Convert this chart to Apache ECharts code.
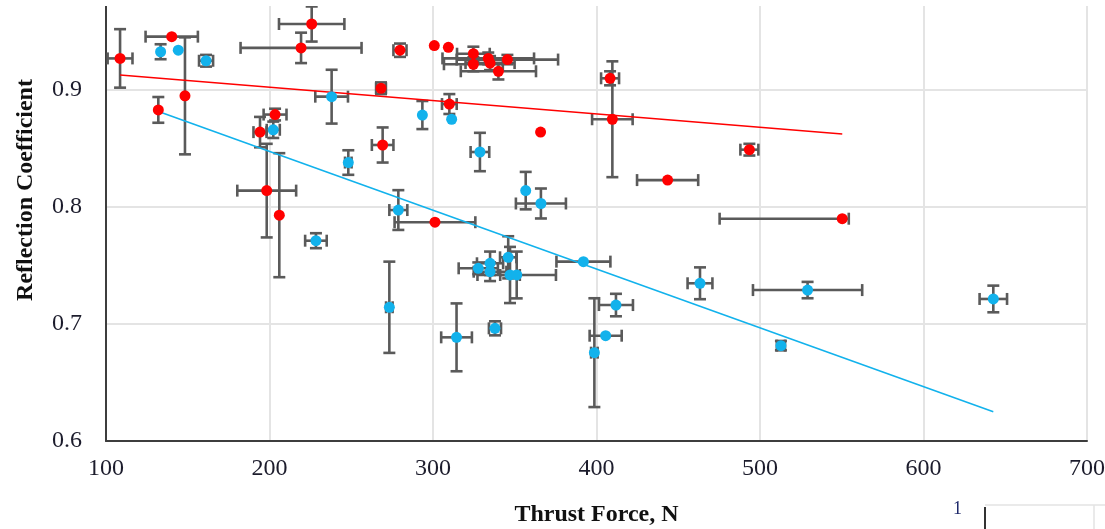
<!DOCTYPE html>
<html>
<head>
<meta charset="utf-8">
<script src="https://cdn.jsdelivr.net/npm/echarts@6/dist/echarts.min.js"></script>
<style>
  html, body { margin: 0; padding: 0; background: #ffffff; }
  #chart { width: 1105px; height: 529px; }
</style>
</head>
<body>
<div id="chart"></div>
<script>
// Red series: thrust force (N) vs reflection coefficient, with ± error (number or [minus, plus])
const redX = [108.6, 140.2, 148.3, 132.0, 225.8, 219.3, 203.4, 194.2, 198.3, 206.0,
              269.2, 268.2, 279.8, 300.8, 309.4, 324.7, 324.7, 333.8, 334.9, 340.0,
              345.5, 310.0, 365.8, 408.3, 409.7, 443.5, 493.5, 301.2, 550.3];
const redY = [0.927, 0.9456, 0.895, 0.883, 0.9564, 0.936, 0.879, 0.864, 0.814, 0.793,
              0.853, 0.9015, 0.934, 0.938, 0.9365, 0.931, 0.922, 0.927, 0.923, 0.916,
              0.926, 0.888, 0.864, 0.910, 0.875, 0.823, 0.849, 0.787, 0.790];
const redXErr = [7.6, 16, 0, 0, 20, 37, 7, 4, 18, 0,
                 6.6, 3, 4, 0, 0, 10, 18, 28, 15, 23,
                 31, 4.5, 0, 5.5, 12.4, 18.7, 5.5, 24.7, [75, 4]];
const redYErr = [0.025, 0, 0.05, 0.011, 0.015, 0.013, 0.005, 0.013, 0.04, 0.053,
                 0.015, 0.005, 0.0057, 0, 0, 0.006, 0.006, 0.005, 0.006, 0.007,
                 0.004, 0.0085, 0, 0.006, 0.0495, 0, 0.005, 0, 0];

// Blue series
const cyanX = [133.4, 144.2, 161.2, 238.0, 248.2, 202.3, 228.4, 278.8, 273.3, 293.5,
               311.4, 328.7, 356.7, 366.0, 392.0, 463.3, 411.9, 405.6, 398.7, 314.4,
               337.9, 327.7, 334.9, 334.9, 346.0, 347.1, 351.2, 529.1, 512.8, 642.7];
const cyanY = [0.9327, 0.934, 0.925, 0.8943, 0.838, 0.866, 0.7712, 0.7974, 0.7143, 0.8786,
               0.875, 0.847, 0.814, 0.803, 0.7533, 0.7348, 0.7162, 0.690, 0.6755, 0.6886,
               0.6963, 0.7476, 0.7519, 0.7447, 0.757, 0.7419, 0.7419, 0.729, 0.6815, 0.7214];
const cyanXErr = [0, 0, 4.3, 10, 2, 4, 6.6, 5.5, 2, 0,
                  0, 5.7, 0, 15.3, 16.5, 7.6, 10.4, 9.8, 2, 9.4,
                  3.7, 12, 8, 10, 5, 6, 24, 33.4, 2.5, 8.4];
const cyanYErr = [0.0064, 0, 0.005, 0.023, 0.0105, 0.007, 0.0064, 0.017, 0.039, 0.012,
                  0, 0.0164, 0.016, 0.0128, 0, 0.0136, 0.0096, 0, 0.0465, 0.029,
                  0.006, 0.005, 0.01, 0.008, 0.018, 0.024, 0.02, 0.007, 0.004, 0.0114];

// Linear trend lines (end points)
const redTrend = [[108.6, 0.9128], [550.3, 0.8624]];
const cyanTrend = [[133.4, 0.881], [642.7, 0.625]];

// Axis ranges and tick spacing
const xRange = [100, 700, 100];
const yRange = [0.6, 1.0, 0.1];

const RED = '#FF0000';
const CYAN = '#12B2EC';
const BAR = '#5a5a5a';

function errRows(xs, ys, xe, ye) {
  return xs.map((x, i) => {
    const ex = Array.isArray(xe[i]) ? xe[i] : [xe[i], xe[i]];
    const ey = Array.isArray(ye[i]) ? ye[i] : [ye[i], ye[i]];
    return [x, ys[i], ex[0], ex[1], ey[0], ey[1]];
  });
}

function errorBars(params, api) {
  const x = api.value(0), y = api.value(1);
  const xm = api.value(2), xp = api.value(3), ym = api.value(4), yp = api.value(5);
  const cap = 6;
  const style = { stroke: BAR, lineWidth: 2.6 };
  const kids = [];
  if (xm > 0 || xp > 0) {
    const a = api.coord([x - xm, y]), b = api.coord([x + xp, y]);
    kids.push({ type: 'line', shape: { x1: a[0], y1: a[1], x2: b[0], y2: b[1] }, style });
    if (xm > 0) kids.push({ type: 'line', shape: { x1: a[0], y1: a[1] - cap, x2: a[0], y2: a[1] + cap }, style });
    if (xp > 0) kids.push({ type: 'line', shape: { x1: b[0], y1: b[1] - cap, x2: b[0], y2: b[1] + cap }, style });
  }
  if (ym > 0 || yp > 0) {
    const a = api.coord([x, y - ym]), b = api.coord([x, y + yp]);
    kids.push({ type: 'line', shape: { x1: a[0], y1: a[1], x2: b[0], y2: b[1] }, style });
    if (ym > 0) kids.push({ type: 'line', shape: { x1: a[0] - cap, y1: a[1], x2: a[0] + cap, y2: a[1] }, style });
    if (yp > 0) kids.push({ type: 'line', shape: { x1: b[0] - cap, y1: b[1], x2: b[0] + cap, y2: b[1] }, style });
  }
  return { type: 'group', children: kids };
}

const SERIF = '"Liberation Serif", "DejaVu Serif", serif';
const chart = echarts.init(document.getElementById('chart'), null, { renderer: 'canvas' });

chart.setOption({
  animation: false,
  backgroundColor: '#ffffff',
  grid: { left: 106, right: 18, top: -27, bottom: 88, containLabel: false, outerBoundsMode: 'none' },
  xAxis: {
    type: 'value',
    min: xRange[0], max: xRange[1], interval: xRange[2],
    name: 'Thrust Force, N',
    nameLocation: 'middle',
    nameGap: 62,
    nameTextStyle: { fontFamily: SERIF, fontWeight: 'bold', fontSize: 24, color: '#111' },
    axisLine: { show: true, lineStyle: { color: '#3d3d3d', width: 2 } },
    axisTick: { show: false },
    axisLabel: { margin: 16, fontFamily: SERIF, fontSize: 24, color: '#1c1c2c' },
    splitLine: { show: true, lineStyle: { color: '#e4e4e4', width: 2 } }
  },
  yAxis: {
    type: 'value',
    min: yRange[0], max: yRange[1], interval: yRange[2],
    name: 'Reflection Coefficient',
    nameLocation: 'middle',
    nameGap: 68,
    nameTextStyle: { fontFamily: SERIF, fontWeight: 'bold', fontSize: 24, color: '#111', padding: [0, 0, 0, 34] },
    axisLine: { show: true, lineStyle: { color: '#3d3d3d', width: 2 } },
    axisTick: { show: false },
    axisLabel: { margin: 24, fontFamily: SERIF, fontSize: 24, color: '#1c1c2c',
                 formatter: v => v.toFixed(1) },
    splitLine: { show: true, lineStyle: { color: '#e4e4e4', width: 2 } }
  },
  series: [
    {
      type: 'custom', name: 'cyan-err', renderItem: errorBars, z: 2,
      data: errRows(cyanX, cyanY, cyanXErr, cyanYErr)
    },
    {
      type: 'custom', name: 'red-err', renderItem: errorBars, z: 2,
      data: errRows(redX, redY, redXErr, redYErr)
    },
    {
      type: 'line', name: 'cyan-trend', data: cyanTrend, symbol: 'none', z: 3,
      lineStyle: { color: CYAN, width: 1.6 }
    },
    {
      type: 'line', name: 'red-trend', data: redTrend, symbol: 'none', z: 3,
      lineStyle: { color: RED, width: 1.6 }
    },
    {
      type: 'scatter', name: 'cyan', z: 4, symbolSize: 11,
      itemStyle: { color: CYAN, opacity: 1 },
      data: cyanX.map((x, i) => [x, cyanY[i]])
    },
    {
      type: 'scatter', name: 'red', z: 5, symbolSize: 11,
      itemStyle: { color: RED, opacity: 1 },
      data: redX.map((x, i) => [x, redY[i]])
    }
  ],
  graphic: [
    { type: 'rect', left: 0, top: 0, shape: { width: 1105, height: 6 }, style: { fill: '#ffffff' }, z: 100 },
    { type: 'text', left: 953, top: 500, style: { text: '1', font: '18px ' + SERIF, fill: '#1f2a6b' }, z: 100 },
    { type: 'line', shape: { x1: 985, y1: 505, x2: 1105, y2: 505 }, style: { stroke: '#e3e3e3', lineWidth: 1.5 }, z: 100 },
    { type: 'line', shape: { x1: 1094, y1: 505, x2: 1094, y2: 529 }, style: { stroke: '#e3e3e3', lineWidth: 1.5 }, z: 100 },
    { type: 'line', shape: { x1: 985, y1: 507, x2: 985, y2: 529 }, style: { stroke: '#333', lineWidth: 2 }, z: 100 }
  ]
});
</script>
</body>
</html>
